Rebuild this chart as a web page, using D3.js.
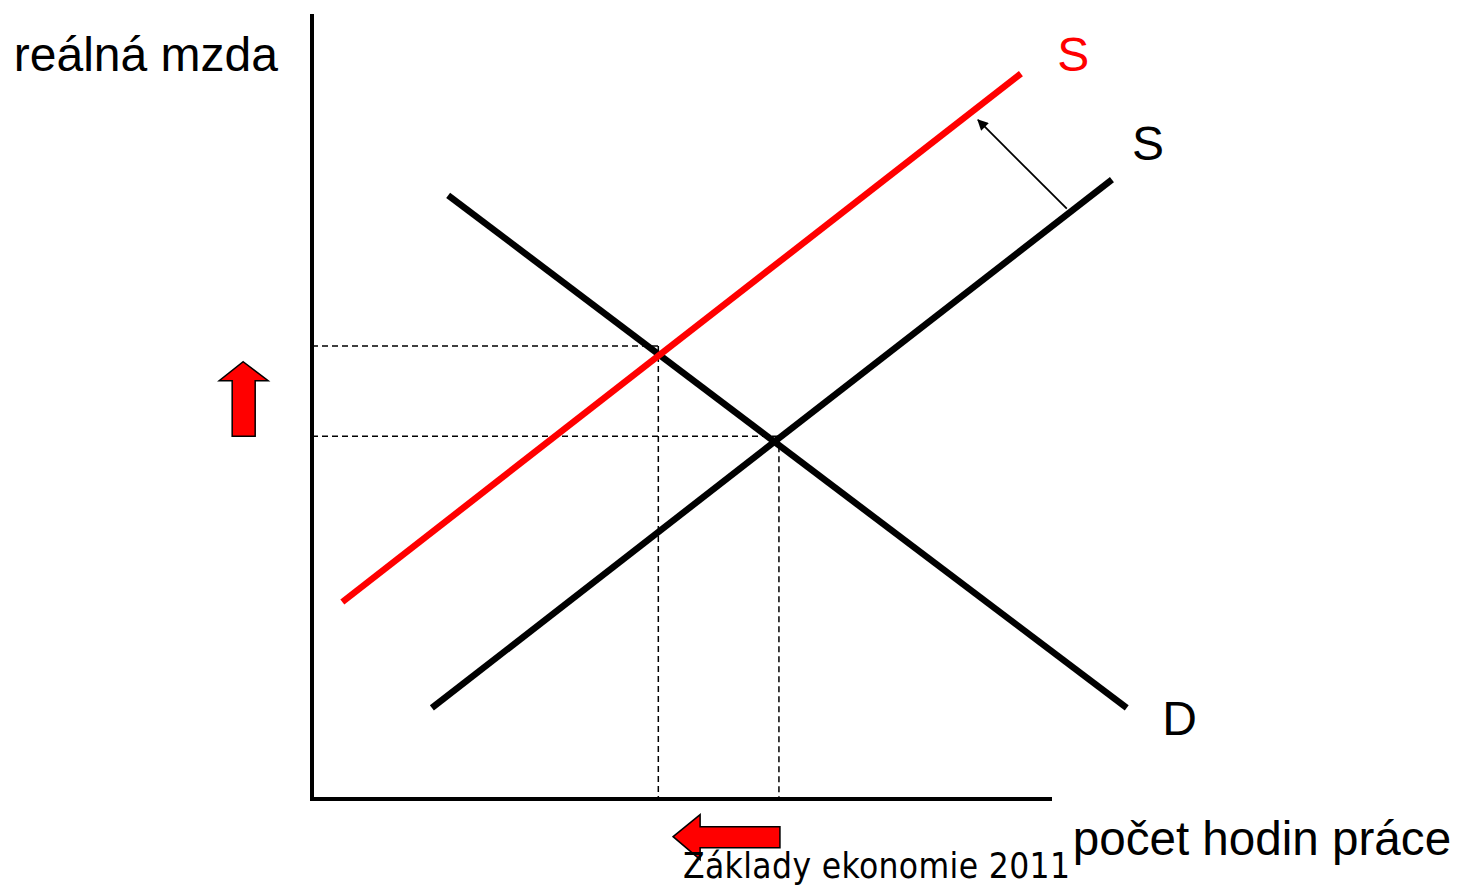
<!DOCTYPE html>
<html>
<head>
<meta charset="utf-8">
<script src="https://cdn.jsdelivr.net/npm/d3@7"></script>
<style>
  body { margin: 0; background: #fff; }
  svg { display: block; }
</style>
</head>
<body>
<div id="chart"></div>
<script>
// curves given as [quantity, wage] end points
const demand = [[18.4, 76.9], [110.1, 11.6]];
const supply = [[16.2, 11.6], [108.1, 78.9]];
const supplyNew = [[4.1, 25.1], [95.8, 92.4]];
const equilibria = [[63.1, 46.2], [46.8, 57.7]];
const shift = [[102.0, 75.2], [90.0, 86.5]];

const labels = [
  { text: "reálná mzda", q: -40.3, w: 92.7, color: "#000" },
  { text: "S", q: 100.7, w: 92.7, color: "#f00" },
  { text: "S", q: 110.8, w: 81.4, color: "#000" },
  { text: "D", q: 114.9, w: 8.2, color: "#000" },
  { text: "počet hodin práce", q: 102.8, w: -7.1, color: "#000" }
];
const footer = "Základy ekonomie 2011";

const width = 1458, height = 887;
const x = d3.scaleLinear().domain([0, 100]).range([312, 1052]);
const y = d3.scaleLinear().domain([0, 100]).range([799, 14]);

const svg = d3.select("#chart").append("svg")
  .attr("width", width)
  .attr("height", height);

svg.append("defs").append("marker")
  .attr("id", "head")
  .attr("viewBox", "0 0 10 10")
  .attr("refX", 9).attr("refY", 5)
  .attr("markerWidth", 13).attr("markerHeight", 11)
  .attr("markerUnits", "userSpaceOnUse")
  .attr("orient", "auto")
  .append("path").attr("d", "M0,0 L10,5 L0,10 z").attr("fill", "#000");

// dashed guides to the axes
equilibria.forEach(([q, w]) => {
  svg.append("line")
    .attr("x1", x(0)).attr("x2", x(q))
    .attr("y1", y(w)).attr("y2", y(w))
    .attr("stroke", "#000").attr("stroke-width", 1.5)
    .attr("stroke-dasharray", "6,4");
  svg.append("line")
    .attr("x1", x(q)).attr("x2", x(q))
    .attr("y1", y(w)).attr("y2", y(0))
    .attr("stroke", "#000").attr("stroke-width", 1.5)
    .attr("stroke-dasharray", "6,4");
});

// axes
svg.append("line").attr("x1", x(0)).attr("x2", x(0))
  .attr("y1", y(0) + 2).attr("y2", y(100))
  .attr("stroke", "#000").attr("stroke-width", 4);
svg.append("line").attr("x1", x(0) - 2).attr("x2", x(100))
  .attr("y1", y(0)).attr("y2", y(0))
  .attr("stroke", "#000").attr("stroke-width", 4);

const line = d3.line().x(d => x(d[0])).y(d => y(d[1]));

[[demand, "#000"], [supply, "#000"], [supplyNew, "#f00"]].forEach(([pts, c]) => {
  svg.append("path").attr("d", line(pts))
    .attr("fill", "none").attr("stroke", c).attr("stroke-width", 6.5);
});

svg.append("path").attr("d", line(shift))
  .attr("fill", "none").attr("stroke", "#000").attr("stroke-width", 1.8)
  .attr("marker-end", "url(#head)");

// block arrows for the change in wage and hours
const upX = x(-9.3), upBase = y(equilibria[0][1]), upTip = y(55.7);
svg.append("path")
  .attr("d", `M${upX},${upTip} L${upX + 25},${upTip + 19} L${upX + 12},${upTip + 19}
    L${upX + 12},${upBase} L${upX - 11},${upBase} L${upX - 11},${upTip + 19}
    L${upX - 24},${upTip + 19} Z`)
  .attr("fill", "#f00").attr("stroke", "#000").attr("stroke-width", 1.5);

const lY = y(-4.8), lTip = x(48.8), lBase = x(equilibria[0][0]) + 1;
svg.append("path")
  .attr("d", `M${lTip},${lY} L${lTip + 27},${lY - 22} L${lTip + 27},${lY - 10}
    L${lBase},${lY - 10} L${lBase},${lY + 11} L${lTip + 27},${lY + 11}
    L${lTip + 27},${lY + 23} Z`)
  .attr("fill", "#f00").attr("stroke", "#000").attr("stroke-width", 1.5);

svg.selectAll("text.lbl").data(labels).enter().append("text")
  .attr("class", "lbl")
  .attr("x", d => x(d.q)).attr("y", d => y(d.w))
  .attr("fill", d => d.color)
  .style("font-family", "'Liberation Sans', Arial, sans-serif")
  .style("font-size", d => d.text.length > 12 ? "47.6px" : "48px")
  .text(d => d.text);

svg.append("text")
  .attr("x", 683).attr("y", 878)
  .attr("textLength", 387)
  .style("font-family", "'DejaVu Sans Condensed', 'DejaVu Sans', sans-serif")
  .style("font-size", "35px")
  .text(footer);
</script>
</body>
</html>
